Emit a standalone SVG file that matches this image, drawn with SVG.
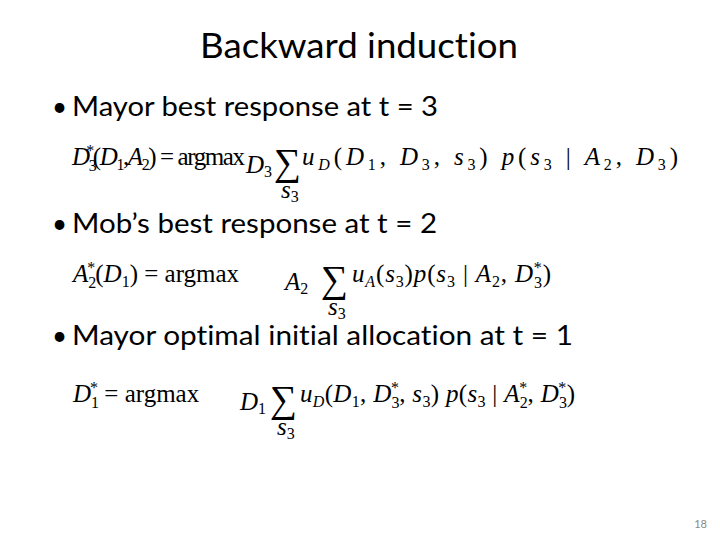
<svg xmlns="http://www.w3.org/2000/svg" width="720" height="540" viewBox="0 0 720 540">
<style>
.t{font-family:Lato,"Open Sans","Liberation Sans",sans-serif;fill:#000;font-variant-ligatures:none}
.m{font-family:"Liberation Serif",serif;font-size:25px;fill:#000}
.i{font-style:italic}
.s{font-size:16px}
.sum{font-family:"Liberation Serif",serif;font-size:38px}
</style>
<rect width="720" height="540" fill="#fff"/>
<text class="t" x="200" y="58" font-size="34" textLength="318" lengthAdjust="spacingAndGlyphs">Backward induction</text>
<g id="b1">
<text class="t" x="52" y="116" font-size="26">•</text>
<text class="t" x="72" y="116" font-size="26" textLength="366" lengthAdjust="spacingAndGlyphs">Mayor best response at t = 3</text>
<g class="m">
<text x="72" y="165" textLength="173" lengthAdjust="spacing"><tspan class="i">D</tspan><tspan class="s" dy="6">3</tspan><tspan class="s" dx="-9" dy="-15">*</tspan><tspan dy="9">(</tspan><tspan class="i">D</tspan><tspan class="s" dy="5">1</tspan><tspan dy="-5">,</tspan><tspan class="i">A</tspan><tspan class="s" dy="5">2</tspan><tspan dy="-5">) = argmax</tspan></text>
<text x="246" y="173"><tspan class="i">D</tspan><tspan class="s" dy="4">3</tspan></text>
<text class="sum" x="274" y="175">∑</text>
<text x="281" y="198"><tspan class="i">s</tspan><tspan class="s" dy="4">3</tspan></text>
<text x="302" y="165" textLength="376" lengthAdjust="spacing"><tspan class="i">u</tspan><tspan class="s i" dy="5">D</tspan><tspan dy="-5">(</tspan><tspan class="i">D</tspan><tspan class="s" dy="5">1</tspan><tspan dy="-5">, </tspan><tspan class="i">D</tspan><tspan class="s" dy="5">3</tspan><tspan dy="-5">, </tspan><tspan class="i">s</tspan><tspan class="s" dy="5">3</tspan><tspan dy="-5">) </tspan><tspan class="i">p</tspan><tspan>(</tspan><tspan class="i">s</tspan><tspan class="s" dy="5">3</tspan><tspan dy="-5"> | </tspan><tspan class="i">A</tspan><tspan class="s" dy="5">2</tspan><tspan dy="-5">, </tspan><tspan class="i">D</tspan><tspan class="s" dy="5">3</tspan><tspan dy="-5">)</tspan></text>
</g>
</g>
<g id="b2">
<text class="t" x="52" y="233" font-size="26">•</text>
<text class="t" x="72" y="233" font-size="26" textLength="365" lengthAdjust="spacingAndGlyphs">Mob’s best response at t = 2</text>
<g class="m">
<text x="73" y="282"><tspan class="i">A</tspan><tspan class="s" dy="6">2</tspan><tspan class="s" dx="-9" dy="-15">*</tspan><tspan dy="9">(</tspan><tspan class="i">D</tspan><tspan class="s" dy="5">1</tspan><tspan dy="-5">) = argmax</tspan></text>
<text x="285" y="290"><tspan class="i">A</tspan><tspan class="s" dy="4">2</tspan></text>
<text class="sum" x="321" y="292">∑</text>
<text x="328" y="315"><tspan class="i">s</tspan><tspan class="s" dy="4">3</tspan></text>
<text x="352" y="282" textLength="199" lengthAdjust="spacing"><tspan class="i">u</tspan><tspan class="s i" dy="5">A</tspan><tspan dy="-5">(</tspan><tspan class="i">s</tspan><tspan class="s" dy="5">3</tspan><tspan dy="-5">)</tspan><tspan class="i">p</tspan><tspan>(</tspan><tspan class="i">s</tspan><tspan class="s" dy="5">3</tspan><tspan dy="-5"> | </tspan><tspan class="i">A</tspan><tspan class="s" dy="5">2</tspan><tspan dy="-5">, </tspan><tspan class="i">D</tspan><tspan class="s" dy="6">3</tspan><tspan class="s" dx="-9" dy="-15">*</tspan><tspan dy="9">)</tspan></text>
</g>
</g>
<g id="b3">
<text class="t" x="52" y="345" font-size="26">•</text>
<text class="t" x="72" y="345" font-size="26" textLength="501" lengthAdjust="spacingAndGlyphs">Mayor optimal initial allocation at t = 1</text>
<g class="m">
<text x="73" y="402"><tspan class="i">D</tspan><tspan class="s" dy="6">1</tspan><tspan class="s" dx="-9" dy="-15">*</tspan><tspan dy="9"> = argmax</tspan></text>
<text x="240" y="410"><tspan class="i">D</tspan><tspan class="s" dy="4">1</tspan></text>
<text class="sum" x="270" y="412">∑</text>
<text x="277" y="435"><tspan class="i">s</tspan><tspan class="s" dy="4">3</tspan></text>
<text x="300" y="402" textLength="275" lengthAdjust="spacing"><tspan class="i">u</tspan><tspan class="s i" dy="5">D</tspan><tspan dy="-5">(</tspan><tspan class="i">D</tspan><tspan class="s" dy="5">1</tspan><tspan dy="-5">, </tspan><tspan class="i">D</tspan><tspan class="s" dy="6">3</tspan><tspan class="s" dx="-9" dy="-15">*</tspan><tspan dy="9">, </tspan><tspan class="i">s</tspan><tspan class="s" dy="5">3</tspan><tspan dy="-5">) </tspan><tspan class="i">p</tspan><tspan>(</tspan><tspan class="i">s</tspan><tspan class="s" dy="5">3</tspan><tspan dy="-5"> | </tspan><tspan class="i">A</tspan><tspan class="s" dy="6">2</tspan><tspan class="s" dx="-9" dy="-15">*</tspan><tspan dy="9">, </tspan><tspan class="i">D</tspan><tspan class="s" dy="6">3</tspan><tspan class="s" dx="-9" dy="-15">*</tspan><tspan dy="9">)</tspan></text>
</g>
</g>
<text class="t" x="707" y="528" font-size="11" text-anchor="end" style="fill:#888">18</text>
</svg>
